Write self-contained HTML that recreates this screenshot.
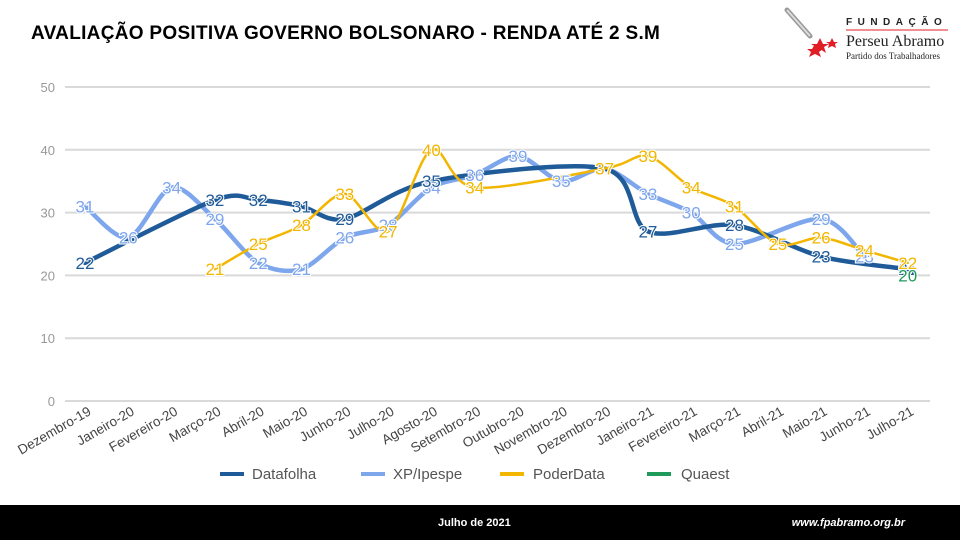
<!DOCTYPE html>
<html><head><meta charset="utf-8">
<style>
body{margin:0;width:960px;height:540px;background:#fff;overflow:hidden;font-family:"Liberation Sans",sans-serif;position:relative}
#title{position:absolute;left:31px;top:23px;font-weight:bold;font-size:19px;color:#000;letter-spacing:0.3px}
#bar{position:absolute;left:0;top:505px;width:960px;height:35px;background:#000;color:#fff;font-weight:bold;font-size:11px}
</style></head><body>
<div id="title">AVALIAÇÃO POSITIVA GOVERNO BOLSONARO - RENDA ATÉ 2 S.M</div>
<svg width="960" height="540" style="position:absolute;left:0;top:0" id="s">
<g font-family="Liberation Sans, sans-serif">
<g>
<line x1="787" y1="10" x2="810" y2="36" stroke="#999" stroke-width="5" stroke-linecap="round"/>
<line x1="787" y1="10" x2="810" y2="36" stroke="#ddd" stroke-width="2"/>
<polygon points="820,38 823,44 829,44 824,47 826,53 820,49 814,53 816,47 811,44 817,44" fill="#e01e26"/>
<polygon points="832,38 834,42 838,42 835,44 836,48 832,46 828,48 829,44 826,42 830,42" fill="#e01e26"/>
<polygon points="815,44 818,49 823,49 819,52 821,57 815,54 809,57 811,52 807,49 812,49" fill="#e01e26"/>
<text x="846" y="25" font-size="10" font-weight="bold" letter-spacing="5.5" fill="#222">FUNDAÇÃO</text>
<line x1="846" y1="30" x2="948" y2="30" stroke="#e01e26" stroke-width="1"/>
<text x="846" y="46" font-size="16" font-family="Liberation Serif, serif" fill="#222">Perseu Abramo</text>
<text x="846" y="59" font-size="9" font-family="Liberation Serif, serif" fill="#222">Partido dos Trabalhadores</text>
</g>
<g id="grid"></g>
<g id="series"></g>
<g id="labels"></g>
<g font-size="15" fill="#555">
<line x1="220" y1="474" x2="244" y2="474" stroke="#1f5b98" stroke-width="4"/><text x="252" y="479">Datafolha</text>
<line x1="361" y1="474" x2="385" y2="474" stroke="#7ea6ec" stroke-width="4"/><text x="393" y="479">XP/Ipespe</text>
<line x1="500" y1="474" x2="524" y2="474" stroke="#f2b600" stroke-width="4"/><text x="533" y="479">PoderData</text>
<line x1="647" y1="474" x2="671" y2="474" stroke="#1f9a5b" stroke-width="4"/><text x="681" y="479">Quaest</text>
</g>
</g>
</svg>
<div id="bar"><span style="position:absolute;left:438px;top:12px">Julho de 2021</span><span style="position:absolute;right:55px;top:12px;font-style:italic">www.fpabramo.org.br</span></div>
<script>
const X=i=>85+i*43.3, Y=v=>401-v*6.28;
const ns="http://www.w3.org/2000/svg";
function el(p,t,a,txt){const e=document.createElementNS(ns,t);for(const k in a)e.setAttribute(k,a[k]);if(txt!=null)e.textContent=txt;document.getElementById(p).appendChild(e);return e;}
for(let v=0;v<=50;v+=10){el("grid","line",{x1:65,x2:930,y1:Y(v),y2:Y(v),stroke:"#d9d9d9","stroke-width":2});el("grid","text",{x:55,y:Y(v)+5,"font-size":13,fill:"#999","text-anchor":"end"},v);}
const months=["Dezembro-19","Janeiro-20","Fevereiro-20","Março-20","Abril-20","Maio-20","Junho-20","Julho-20","Agosto-20","Setembro-20","Outubro-20","Novembro-20","Dezembro-20","Janeiro-21","Fevereiro-21","Março-21","Abril-21","Maio-21","Junho-21","Julho-21"];
months.forEach((m,i)=>{el("grid","text",{x:X(i)+7,y:414,"font-size":13.5,fill:"#444","text-anchor":"end",transform:`rotate(-30 ${X(i)+7} 414)`},m);});
const S=[
 {c:"#7ea6ec",w:4.5,d:[[0,31],[1,26],[2,34],[3,29],[4,22],[5,21],[6,26],[7,28],[8,34],[9,36],[10,39],[11,35],[12,37],[13,33],[14,30],[15,25],[17,29],[18,23]]},
 {c:"#1f5b98",w:4.5,d:[[0,22],[3,32],[4,32],[5,31],[6,29],[8,35],[12,37],[13,27],[15,28],[17,23],[19,21]]},
 {c:"#f2b600",w:2.5,d:[[3,21],[4,25],[5,28],[6,33],[7,27],[8,40],[9,34],[12,37],[13,39],[14,34],[15,31],[16,25],[17,26],[18,24],[19,22]]},
 {c:"#1f9a5b",w:3,d:[[19,20]]}
];
function path(pts){let d=`M${pts[0][0]},${pts[0][1]}`;for(let i=0;i<pts.length-1;i++){const p0=pts[i-1]||pts[i],p1=pts[i],p2=pts[i+1],p3=pts[i+2]||p2;const t=0.15;const c1=[p1[0]+(p2[0]-p0[0])*t,p1[1]+(p2[1]-p0[1])*t],c2=[p2[0]-(p3[0]-p1[0])*t,p2[1]-(p3[1]-p1[1])*t];d+=` C${c1[0]},${c1[1]} ${c2[0]},${c2[1]} ${p2[0]},${p2[1]}`;}return d;}
S.forEach(s=>{const pts=s.d.map(([i,v])=>[X(i),Y(v)]);if(pts.length>1)el("series","path",{d:path(pts),fill:"none",stroke:s.c,"stroke-width":s.w,"stroke-linecap":"round"});
 s.d.forEach(([i,v])=>{el("labels","text",{x:X(i),y:Y(v)+6,"font-size":17,fill:s.c,"text-anchor":"middle",stroke:"#fff","stroke-width":2,"paint-order":"stroke"},v);});});
</script>
</body></html>
